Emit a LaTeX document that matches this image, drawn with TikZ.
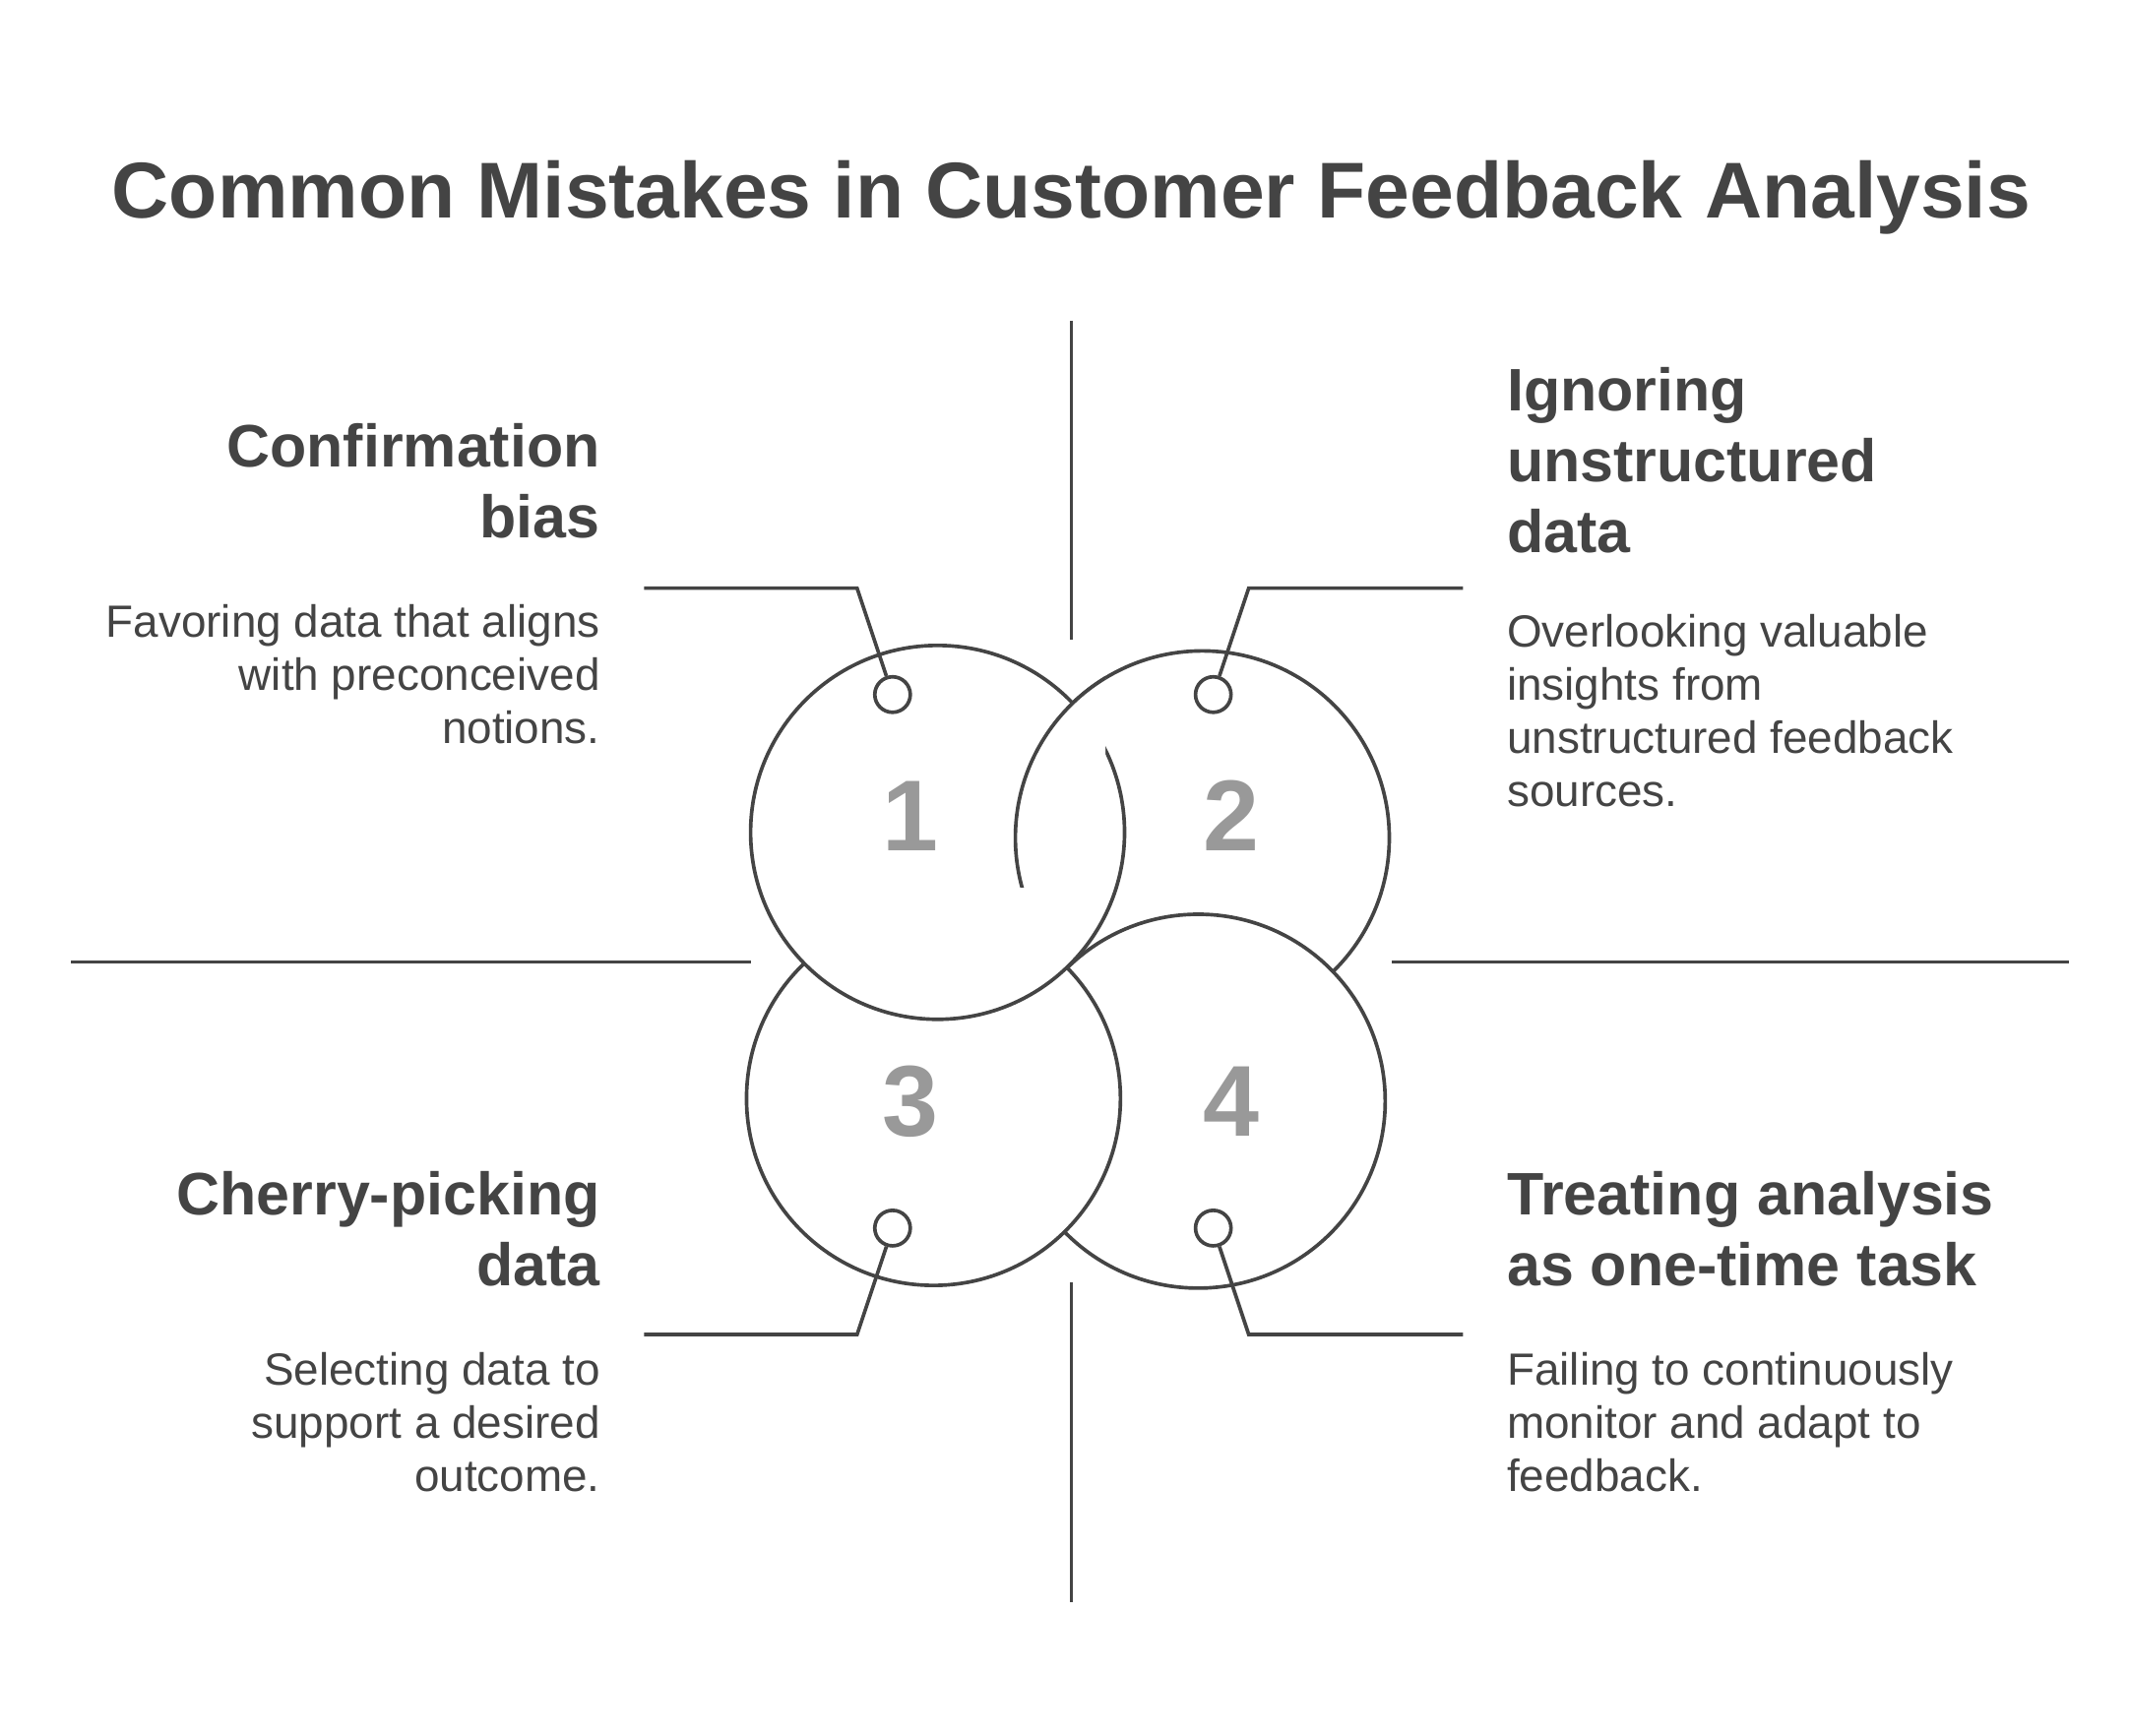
\documentclass[tikz,border=0pt]{standalone}
\usepackage{fontspec}
\setmainfont{Liberation Sans}
\definecolor{ink}{HTML}{444444}
\definecolor{numgray}{HTML}{999999}
\begin{document}
\begin{tikzpicture}[x=0.01cm,y=-0.01cm,line width=0.75pt,draw=ink,
    ring/.style={draw=ink,fill=white},
    dot/.style={draw=ink,fill=white,circle,minimum size=0.26cm,inner sep=0pt},
    num/.style={text=numgray,font=\fontsize{21}{24}\selectfont\bfseries},
    head/.style={text=ink,inner sep=0pt,font=\fontsize{12.5}{14.8}\selectfont\bfseries},
    body/.style={text=ink,inner sep=0pt,font=\fontsize{9.4}{11.05}\selectfont}]
    \useasboundingbox (0,0) rectangle (1560,1272);

    \node[text=ink,font=\fontsize{16.5}{20}\selectfont\bfseries,anchor=base] (title) at (785,160) {Common Mistakes in Customer Feedback Analysis};

    % axes
    \coordinate (vt1) at (785,235); \coordinate (vt2) at (785,469);
    \coordinate (vb1) at (785,940); \coordinate (vb2) at (785,1174);
    \coordinate (hl1) at (52,705);  \coordinate (hl2) at (550,705);
    \coordinate (hr1) at (1020,705); \coordinate (hr2) at (1516,705);
    \draw (vt1) -- (vt2);
    \draw (vb1) -- (vb2);
    \draw (hl1) -- (hl2);
    \draw (hr1) -- (hr2);

    % rings
    \draw[ring] (881,614) circle (137);
    \draw[ring] (878,807) circle (137);
    \draw[ring] (684,805) circle (137);
    \draw[ring] (687,610) circle (137);
    \begin{scope}
        \clip (735,440) rectangle (810,650);
        \draw[ring] (881,614) circle (137);
    \end{scope}

    \node[num] (n1) at (667,598) {1};
    \node[num] (n2) at (902,598) {2};
    \node[num] (n3) at (667,807) {3};
    \node[num] (n4) at (902,807) {4};

    % pins and leaders
    \node[dot] (d1) at (654,509) {};
    \node[dot] (d2) at (889,509) {};
    \node[dot] (d3) at (654,900) {};
    \node[dot] (d4) at (889,900) {};
    \coordinate (k1) at (628,431); \coordinate (e1) at (472,431);
    \coordinate (k2) at (915,431); \coordinate (e2) at (1072,431);
    \coordinate (k3) at (628,978); \coordinate (e3) at (472,978);
    \coordinate (k4) at (915,978); \coordinate (e4) at (1072,978);
    \draw (d1) -- (k1) -- (e1);
    \draw (d2) -- (k2) -- (e2);
    \draw (d3) -- (k3) -- (e3);
    \draw (d4) -- (k4) -- (e4);

    % texts
    \node[head,align=right,anchor=north east] (h1) at (441,309) {Confirmation\\bias};
    \node[body,align=right,anchor=north east] (b1) at (441,442) {Favoring data that aligns\\with preconceived\\notions.};
    \node[head,align=left,anchor=north west] (h2) at (1103,268) {Ignoring\\unstructured\\data};
    \node[body,align=left,anchor=north west] (b2) at (1103,449) {Overlooking valuable\\insights from\\unstructured feedback\\sources.};
    \node[head,align=right,anchor=north east] (h3) at (441,857) {Cherry-picking\\data};
    \node[body,align=right,anchor=north east] (b3) at (441,990) {Selecting data to\\support a desired\\outcome.};
    \node[head,align=left,anchor=north west] (h4) at (1103,857) {Treating analysis\\as one-time task};
    \node[body,align=left,anchor=north west] (b4) at (1103,990) {Failing to continuously\\monitor and adapt to\\feedback.};
\end{tikzpicture}
\end{document}
